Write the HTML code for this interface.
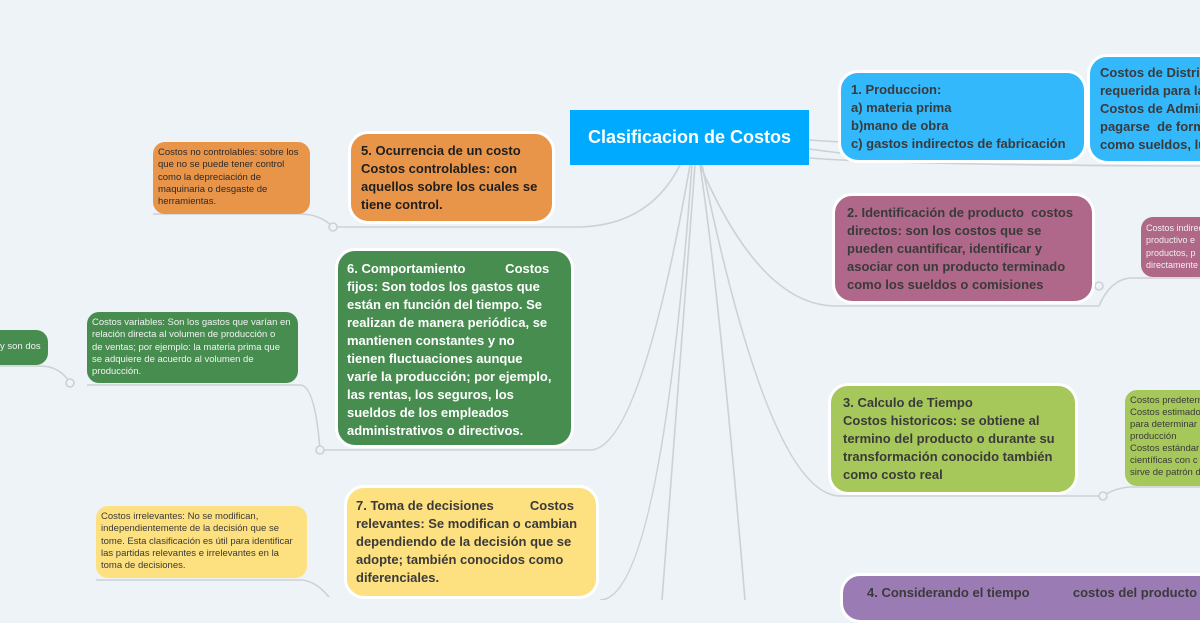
<!DOCTYPE html>
<html><head><meta charset="utf-8"><style>
*{margin:0;padding:0;box-sizing:border-box}
body{width:1200px;height:600px;overflow:hidden;background:#eef3f7;position:relative;font-family:"Liberation Sans",sans-serif}
.n{position:absolute;border:3px solid #fff;border-radius:20px;font-weight:bold;font-size:13px;line-height:18px;color:#3a3a3a;padding:8px 14px;overflow:hidden;white-space:nowrap}
.s{position:absolute;border-radius:12px;font-size:9.5px;line-height:12.3px;color:#3a3a3a;padding:5px 5px;overflow:hidden;white-space:nowrap}
svg{position:absolute;left:0;top:0}
</style></head><body>
<svg width="1200" height="600" fill="none" stroke="#cdd1d5" stroke-width="1.6">
<path d="M680 165 Q650 225 580 227 L333 227"/>
<path d="M690 165 Q640 450 590 450 L320 450"/>
<path d="M692 165 Q660 600 600 600"/>
<path d="M695 165 Q670 500 662 600"/>
<path d="M700 165 Q720 300 745 600"/>
<path d="M700 165 Q760 305 835 306 L1099 306"/>
<path d="M702 165 Q770 495 840 496 L1103 496"/>
<path d="M809 140 L840 142"/><path d="M809 149 L840 153"/><path d="M809 158 Q900 165 1200 166"/>
<path d="M1099 306 Q1110 280 1130 278 L1200 278"/>
<path d="M1103 496 Q1115 488 1130 487 L1200 487"/>
<path d="M333 227 Q320 214 300 214 L153 214"/>
<path d="M320 450 Q315 385 300 385 L87 385"/>
<path d="M70 383 Q60 366 40 366 L0 366"/>
<path d="M329 597 Q315 580 300 580 L96 580"/>
<circle cx="333" cy="227" r="4" fill="#eef3f7"/>
<circle cx="320" cy="450" r="4" fill="#eef3f7"/>
<circle cx="70" cy="383" r="4" fill="#eef3f7"/>
<circle cx="1099" cy="286" r="4" fill="#eef3f7"/>
<circle cx="1103" cy="496" r="4" fill="#eef3f7"/>
</svg>

<div style="position:absolute;left:570px;top:110px;width:239px;height:55px;background:#00aaff;color:#fff;font-weight:bold;font-size:18px;line-height:55px;text-align:center">Clasificacion de Costos</div>

<div class="n" style="left:838px;top:70px;width:249px;height:93px;background:#33b8fc;padding:8px 10px">1. Produccion:<br>a) materia prima<br>b)mano de obra<br>c) gastos indirectos de fabricación</div>
<div class="n" style="left:1087px;top:54px;width:140px;height:110px;background:#33b8fc;padding:7px 10px">Costos de Distribución<br>requerida para la venta<br>Costos de Administración<br>pagarse &nbsp;de forma<br>como sueldos, luz</div>

<div class="n" style="left:832px;top:193px;width:263px;height:111px;background:#b0688a;padding:8px 12px">2. Identificación de producto &nbsp;costos<br>directos: son los costos que se<br>pueden cuantificar, identificar y<br>asociar con un producto terminado<br>como los sueldos o comisiones</div>
<div class="s" style="left:1141px;top:217px;width:70px;height:60px;background:#b06888;color:#eee;font-size:9px">Costos indirectos<br>productivo e<br>productos, p<br>directamente</div>

<div class="n" style="left:828px;top:383px;width:250px;height:112px;background:#a6c85a;padding:8px 12px">3. Calculo de Tiempo<br>Costos historicos: se obtiene al<br>termino del producto o durante su<br>transformación conocido también<br>como costo real</div>
<div class="s" style="left:1125px;top:390px;width:90px;height:96px;background:#a6c85a;font-size:9.5px;line-height:12px">Costos predeterminados<br>Costos estimados<br>para determinar<br>producción<br>Costos estándar<br>científicas con c<br>sirve de patrón d</div>

<div class="n" style="left:840px;top:573px;width:380px;height:50px;background:#9b7bb3;padding:8px 24px">4. Considerando el tiempo &nbsp;&nbsp;&nbsp;&nbsp;&nbsp;&nbsp;&nbsp;&nbsp;&nbsp;&nbsp;&nbsp;costos del producto</div>

<div class="n" style="left:348px;top:131px;width:207px;height:93px;background:#e8954a;color:#1e1e1e;padding:8px 10px">5. Ocurrencia de un costo<br>Costos controlables: con<br>aquellos sobre los cuales se<br>tiene control.</div>
<div class="s" style="left:153px;top:142px;width:157px;height:72px;background:#e8954a;color:#2a2a2a">Costos no controlables: sobre los<br>que no se puede tener control<br>como la depreciación de<br>maquinaria o desgaste de<br>herramientas.</div>

<div class="n" style="left:335px;top:248px;width:239px;height:200px;background:#478d50;color:#fff;padding:9px 9px">6. Comportamiento &nbsp;&nbsp;&nbsp;&nbsp;&nbsp;&nbsp;&nbsp;&nbsp;&nbsp;&nbsp;Costos<br>fijos: Son todos los gastos que<br>están en función del tiempo. Se<br>realizan de manera periódica, se<br>mantienen constantes y no<br>tienen fluctuaciones aunque<br>varíe la producción; por ejemplo,<br>las rentas, los seguros, los<br>sueldos de los empleados<br>administrativos o directivos.</div>
<div class="s" style="left:87px;top:312px;width:211px;height:71px;background:#478d50;color:#f2f2f2">Costos variables: Son los gastos que varían en<br>relación directa al volumen de producción o<br>de ventas; por ejemplo: la materia prima que<br>se adquiere de acuerdo al volumen de<br>producción.</div>
<div class="s" style="left:-20px;top:330px;width:68px;height:35px;background:#478d50;color:#f2f2f2;padding:11px 0 0 20px">y son dos</div>

<div class="n" style="left:344px;top:485px;width:255px;height:114px;background:#fde07f;padding:9px 9px">7. Toma de decisiones &nbsp;&nbsp;&nbsp;&nbsp;&nbsp;&nbsp;&nbsp;&nbsp;&nbsp;Costos<br>relevantes: Se modifican o cambian<br>dependiendo de la decisión que se<br>adopte; también conocidos como<br>diferenciales.</div>
<div class="s" style="left:96px;top:506px;width:211px;height:72px;background:#fde07f">Costos irrelevantes: No se modifican,<br>independientemente de la decisión que se<br>tome. Esta clasificación es útil para identificar<br>las partidas relevantes e irrelevantes en la<br>toma de decisiones.</div>
</body></html>
